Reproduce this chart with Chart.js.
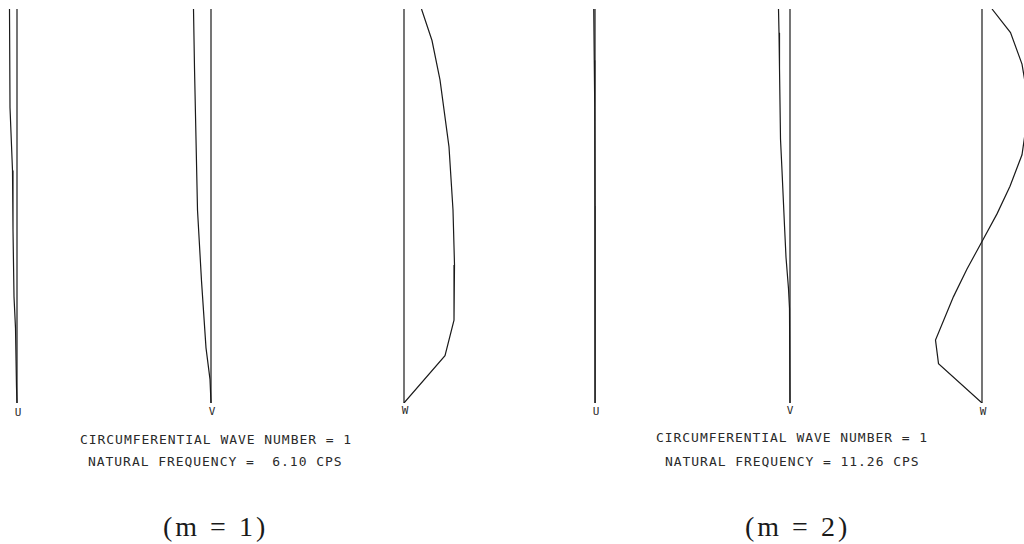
<!DOCTYPE html>
<html>
<head>
<meta charset="utf-8">
<script src="https://cdn.jsdelivr.net/npm/chart.js@4.4.0/dist/chart.umd.min.js"></script>
<style>
  html, body { margin: 0; padding: 0; background: #fff; }
  body { width: 1024px; height: 544px; overflow: hidden; position: relative; }
  canvas.panel { position: absolute; }
  .lbl { position: absolute; font-family: "DejaVu Sans Mono", monospace; font-size: 11px; line-height: 11px; color: #2a2a2a; transform: translateX(-50%); }
  .info { position: absolute; font-family: "DejaVu Sans Mono", monospace; font-size: 13px; line-height: 14px; letter-spacing: 0.95px; color: #2a2a2a; white-space: pre; }
  .mode { position: absolute; font-family: "Liberation Serif", serif; font-size: 28px; line-height: 30px; letter-spacing: 3px; color: #1a1a1a; white-space: pre; }
</style>
</head>
<body>
<canvas class="panel" id="u1"></canvas>
<canvas class="panel" id="v1"></canvas>
<canvas class="panel" id="w1"></canvas>
<canvas class="panel" id="u2"></canvas>
<canvas class="panel" id="v2"></canvas>
<canvas class="panel" id="w2"></canvas>

<div class="lbl" style="left:18px;top:407px">U</div>
<div class="lbl" style="left:212px;top:406px">V</div>
<div class="lbl" style="left:405px;top:405px">W</div>
<div class="lbl" style="left:596px;top:406px">U</div>
<div class="lbl" style="left:790px;top:405px">V</div>
<div class="lbl" style="left:983px;top:406px">W</div>

<div class="info" style="left:80px;top:433px">CIRCUMFERENTIAL WAVE NUMBER = 1</div>
<div class="info" style="left:88px;top:455px">NATURAL FREQUENCY =  6.10 CPS</div>
<div class="info" style="left:656px;top:431px">CIRCUMFERENTIAL WAVE NUMBER = 1</div>
<div class="info" style="left:665px;top:455px">NATURAL FREQUENCY = 11.26 CPS</div>

<div class="mode" style="left:163px;top:512px">(m = 1)</div>
<div class="mode" style="left:745px;top:512px">(m = 2)</div>

<script>
// axial station (0 = bottom end, 1 = top end) and normalized modal displacement
// mode m = 1
const stationsU1 = [1.0, 0.75, 0.59, 0.44, 0.27, 0.19, 0.04, 0];
const u1 = [-0.15, -0.14, -0.09, -0.08, -0.06, -0.03, -0.01, 0];
const stationsV1 = [1.0, 0.85, 0.67, 0.49, 0.31, 0.14, 0.06, 0];
const v1 = [-0.35, -0.33, -0.30, -0.27, -0.19, -0.10, -0.02, 0];
const stationsW1 = [1.0, 0.92, 0.82, 0.65, 0.49, 0.35, 0.21, 0.12, 0];
const w1 = [0.35, 0.56, 0.72, 0.90, 0.98, 1.01, 1.00, 0.82, 0];

// mode m = 2
const stationsU2 = [1.0, 0.87, 0.75, 0.5, 0.27, 0];
const u2 = [-0.025, -0.015, -0.005, 0, 0.005, 0];
const stationsV2 = [1.0, 0.94, 0.85, 0.67, 0.59, 0.45, 0.37, 0.29, 0.24, 0];
const v2 = [-0.23, -0.22, -0.21, -0.19, -0.16, -0.11, -0.08, -0.03, -0.01, 0];
const stationsW2 = [1.0, 0.94, 0.86, 0.80, 0.75, 0.70, 0.63, 0.55, 0.48, 0.41, 0.34, 0.27, 0.16, 0.10, 0];
const w2 = [0.20, 0.57, 0.80, 0.88, 0.92, 0.88, 0.80, 0.56, 0.30, 0, -0.30, -0.57, -0.93, -0.87, 0];

const PX_PER_UNIT = 50;
const HALF = 60;
const lineColor = "#1a1a1a";

function drawPanel(id, baseX, stations, values) {
  const canvas = document.getElementById(id);
  canvas.width = HALF * 2;
  canvas.height = 394;
  canvas.style.left = baseX - HALF + "px";
  canvas.style.top = "9px";

  new Chart(canvas, {
    type: "scatter",
    data: {
      datasets: [
        {
          // undeformed reference line
          data: [{ x: 0, y: 0 }, { x: 0, y: 1 }],
          showLine: true,
          borderColor: lineColor,
          borderWidth: 1.2,
        },
        {
          data: stations.map(function (s, i) {
            return { x: values[i], y: s };
          }),
          showLine: true,
          borderColor: lineColor,
          borderWidth: 1.2,
        },
      ],
    },
    options: {
      responsive: false,
      animation: false,
      layout: { padding: 0 },
      elements: { point: { radius: 0 }, line: { tension: 0 } },
      plugins: { legend: { display: false }, tooltip: { enabled: false } },
      scales: {
        x: { display: false, min: -HALF / PX_PER_UNIT, max: HALF / PX_PER_UNIT },
        y: { display: false, min: 0, max: 1 },
      },
    },
  });
}

drawPanel("u1", 17, stationsU1, u1);
drawPanel("v1", 210.5, stationsV1, v1);
drawPanel("w1", 404, stationsW1, w1);
drawPanel("u2", 595, stationsU2, u2);
drawPanel("v2", 789.5, stationsV2, v2);
drawPanel("w2", 982, stationsW2, w2);
</script>
</body>
</html>
